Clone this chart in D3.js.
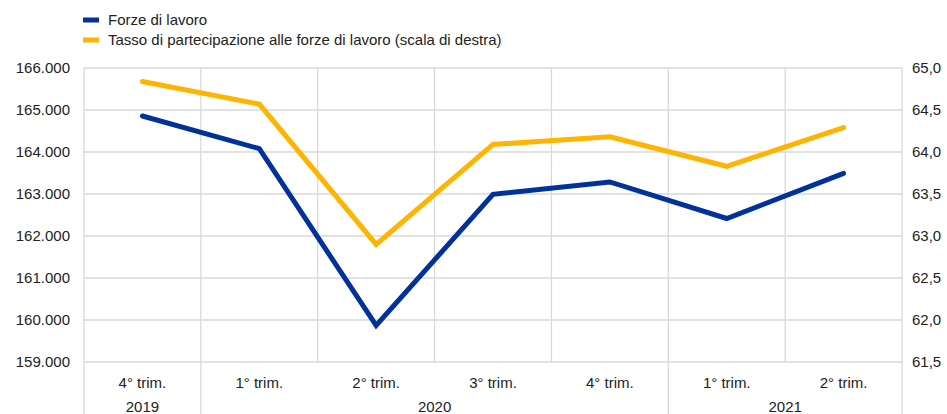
<!DOCTYPE html>
<html>
<head>
<meta charset="utf-8">
<script src="https://cdn.jsdelivr.net/npm/d3@7"></script>
<style>
  body { margin: 0; background: #fff; }
  svg { display: block; font-family: "Liberation Sans", Arial, sans-serif; }
</style>
</head>
<body>
<svg id="chart" width="947" height="414"></svg>
<script>
const quarters = ["4° trim.", "1° trim.", "2° trim.", "3° trim.", "4° trim.", "1° trim.", "2° trim."];
const years = [{label: "2019", start: 0, end: 1}, {label: "2020", start: 1, end: 5}, {label: "2021", start: 5, end: 7}];
const forzeLavoro = [164857, 164079, 159869, 162993, 163286, 162417, 163493];
const tassoPartecipazione = [64.84, 64.57, 62.90, 64.09, 64.18, 63.83, 64.29];
const leftTicks = [159000, 160000, 161000, 162000, 163000, 164000, 165000, 166000];
const rightTicks = [61.5, 62.0, 62.5, 63.0, 63.5, 64.0, 64.5, 65.0];
const seriesNames = ["Forze di lavoro", "Tasso di partecipazione alle forze di lavoro (scala di destra)"];
const colors = ["#003299", "#FFB400"];

(function () {
const svg = d3.select("#chart");
const pL = 84, pR = 902, pT = 68, pB = 362;
const gridColor = "#d9d9d9";

const x = d3.scaleBand().domain(d3.range(quarters.length)).range([pL, pR]);
const yL = d3.scaleLinear().domain([159000, 166000]).range([pB, pT]);
const yR = d3.scaleLinear().domain([61.5, 65.0]).range([pB, pT]);

// horizontal gridlines
svg.append("g").selectAll("line").data(leftTicks).join("line")
  .attr("x1", pL).attr("x2", pR)
  .attr("y1", d => yL(d)).attr("y2", d => yL(d))
  .attr("stroke", gridColor).attr("stroke-width", 1.3);

// vertical gridlines (category boundaries)
const yearBounds = new Set(years.flatMap(y => [y.start, y.end]));
svg.append("g").selectAll("line").data(d3.range(quarters.length + 1)).join("line")
  .attr("x1", i => i < quarters.length ? x(i) : pR)
  .attr("x2", i => i < quarters.length ? x(i) : pR)
  .attr("y1", pT)
  .attr("y2", i => yearBounds.has(i) ? 414 : pB)
  .attr("stroke", gridColor).attr("stroke-width", 1.3);

// left axis labels
const fmtL = d => d3.format(",")(d).replace(/,/g, ".");
svg.append("g").selectAll("text").data(leftTicks).join("text")
  .attr("x", 70).attr("y", d => yL(d)).attr("dy", "0.35em")
  .attr("text-anchor", "end").attr("font-size", 15).attr("fill", "#222")
  .text(fmtL);

// right axis labels
const fmtR = d => d3.format(".1f")(d).replace(".", ",");
svg.append("g").selectAll("text").data(rightTicks).join("text")
  .attr("x", 912).attr("y", d => yR(d)).attr("dy", "0.35em")
  .attr("text-anchor", "start").attr("font-size", 15).attr("fill", "#222")
  .text(fmtR);

// category labels
svg.append("g").selectAll("text").data(quarters).join("text")
  .attr("x", (d, i) => x(i) + x.bandwidth() / 2).attr("y", 388)
  .attr("text-anchor", "middle").attr("font-size", 15).attr("fill", "#222")
  .text(d => d);

// year labels
svg.append("g").selectAll("text").data(years).join("text")
  .attr("x", d => (x(d.start) + (d.end < quarters.length ? x(d.end) : pR)) / 2)
  .attr("y", 412)
  .attr("text-anchor", "middle").attr("font-size", 15).attr("fill", "#222")
  .text(d => d.label);

// lines
const lineL = d3.line().x((d, i) => x(i) + x.bandwidth() / 2).y(d => yL(d));
const lineR = d3.line().x((d, i) => x(i) + x.bandwidth() / 2).y(d => yR(d));
svg.append("path").datum(forzeLavoro).attr("d", lineL)
  .attr("fill", "none").attr("stroke", colors[0]).attr("stroke-width", 5)
  .attr("stroke-linejoin", "miter").attr("stroke-linecap", "round");
svg.append("path").datum(tassoPartecipazione).attr("d", lineR)
  .attr("fill", "none").attr("stroke", colors[1]).attr("stroke-width", 5)
  .attr("stroke-linejoin", "miter").attr("stroke-linecap", "round");

// legend
const leg = svg.append("g").selectAll("g").data(seriesNames).join("g")
  .attr("transform", (d, i) => `translate(83, ${20 + i * 20})`);
leg.append("rect").attr("x", 0).attr("y", -2.5).attr("width", 16).attr("height", 5)
  .attr("fill", (d, i) => colors[i]);
leg.append("text").attr("x", 25).attr("y", 0).attr("dy", "0.35em")
  .attr("font-size", 15).attr("fill", "#222").text(d => d);
})();
</script>
</body>
</html>
